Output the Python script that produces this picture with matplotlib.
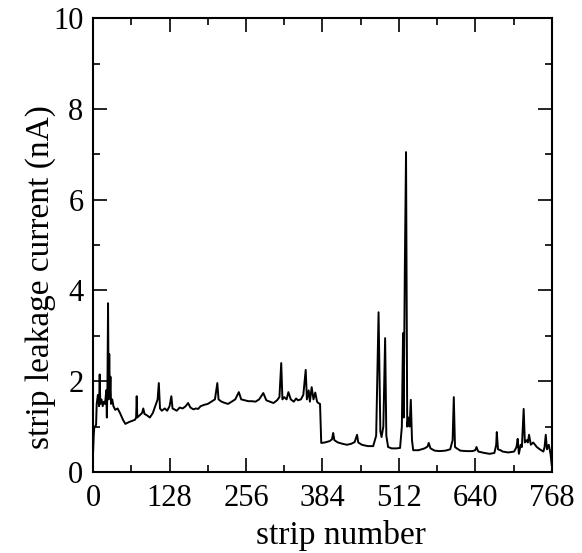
import matplotlib.pyplot as plt
from matplotlib.ticker import MultipleLocator

# values (strip number, leakage current in nA)
strip = [0, 1, 2, 4, 5, 6, 8, 10, 11, 12, 14, 16, 18, 20, 22, 23, 24, 25, 26, 27, 28, 29, 30,
         32, 34, 37, 41, 45, 50, 54, 60, 66, 70, 72, 73, 74, 78, 82, 84, 86, 90, 95, 100, 104,
         108, 110, 112, 115, 120, 124, 128, 131, 133, 136, 140, 145, 150, 155, 159, 163, 168,
         172, 176, 180, 186, 192, 198, 204, 208, 210, 215, 221, 226, 232, 238, 244, 248, 254,
         260, 266, 272, 278, 285, 290, 296, 302, 308, 312, 315, 317, 320, 324, 327, 331, 336,
         340, 343, 348, 352, 356, 358, 361, 363, 366, 369, 372, 375, 377, 380, 382, 388, 396,
         400, 402, 404, 410, 418, 425, 432, 438, 442, 444, 450, 460, 469, 474, 478, 481, 483,
         486, 489, 491, 494, 500, 508, 514, 517, 519, 520, 522, 524, 526, 528, 530, 532, 534,
         536, 545, 555, 560, 562, 565, 572, 580, 590, 598, 602, 604, 606, 609, 615, 625, 635,
         640, 642, 645, 655, 664, 672, 675, 676, 678, 682, 686, 695, 705, 709, 711, 713, 716,
         718, 721, 723, 726, 728, 730, 733, 737, 743, 748, 754, 756, 758, 760, 763, 766, 768]
current = [0.45, 0.8, 1.0, 1.0, 1.05, 1.5, 1.7, 1.45, 2.15, 1.5, 1.6, 1.45, 1.55, 1.5, 1.8, 1.2,
           1.9, 3.72, 1.6, 2.6, 1.7, 2.1, 1.5,
           1.6, 1.45, 1.37, 1.4, 1.3, 1.15, 1.06, 1.1, 1.13, 1.15, 1.2, 1.67, 1.2, 1.25, 1.3,
           1.4, 1.28, 1.25, 1.2, 1.3, 1.45,
           1.6, 1.96, 1.4, 1.35, 1.4, 1.35, 1.45, 1.67, 1.4, 1.38, 1.35, 1.42, 1.4, 1.45, 1.52,
           1.42, 1.38,
           1.4, 1.39, 1.45, 1.48, 1.5, 1.55, 1.6, 1.96, 1.6, 1.55, 1.52, 1.5, 1.55, 1.6, 1.76,
           1.6, 1.58,
           1.56, 1.56, 1.55, 1.6, 1.74, 1.58, 1.55, 1.52, 1.58, 1.65, 2.4, 1.6, 1.65, 1.6, 1.76,
           1.6, 1.55,
           1.62, 1.58, 1.6, 1.7, 2.25, 1.6, 1.8, 1.55, 1.87, 1.6, 1.75, 1.55, 1.52, 1.5, 0.64,
           0.65, 0.68,
           0.72, 0.86, 0.7, 0.65, 0.62, 0.6, 0.62, 0.66, 0.82, 0.65, 0.6, 0.57, 0.57, 0.8, 3.52,
           0.9, 0.77,
           1.0, 2.95, 0.8, 0.55, 0.52, 0.52, 0.53, 1.0, 3.06, 1.2, 4.5, 7.05, 1.0, 1.2, 1.0,
           1.59, 0.7,
           0.48, 0.48, 0.52, 0.56, 0.64, 0.52, 0.47, 0.46, 0.47, 0.5, 0.7, 1.65, 0.55, 0.52,
           0.47, 0.46, 0.46,
           0.48, 0.55, 0.45, 0.42, 0.4, 0.42, 0.6, 0.88, 0.5, 0.48, 0.45, 0.43, 0.45, 0.55,
           0.73, 0.4, 0.6,
           0.55, 1.39, 0.65, 0.7, 0.65, 0.82, 0.6, 0.65, 0.55, 0.5, 0.45, 0.55, 0.82, 0.5, 0.6,
           0.4, 0.15]

xticks = [0, 128, 256, 384, 512, 640, 768]
yticks = [0, 2, 4, 6, 8, 10]

plt.rcParams['font.family'] = 'Liberation Serif'
plt.rcParams['font.size'] = 22

fig = plt.figure(figsize=(5.82, 5.53), dpi=100)
ax = fig.add_axes([0.160, 0.1465, 0.788, 0.8205])

ax.plot(strip, current, color='black', linewidth=1.4)

ax.set_xlim(0, 768)
ax.set_ylim(0, 10)
ax.set_xticks(xticks)
ax.set_yticks(yticks)
ax.xaxis.set_minor_locator(MultipleLocator(64))
ax.yaxis.set_minor_locator(MultipleLocator(1))
ax.tick_params(which='both', direction='in', top=True, right=True, width=1.2)
ax.tick_params(which='major', length=10)
ax.tick_params(axis='x', which='major', pad=9)
ax.tick_params(axis='y', which='major', pad=7)
ax.tick_params(which='minor', length=5)
for sp in ax.spines.values():
    sp.set_linewidth(1.5)

ax.set_xlabel('strip number', fontsize=24)
ax.set_ylabel('strip leakage current (nA)', fontsize=24)
ax.xaxis.set_label_coords(0.54, -0.105)
ax.yaxis.set_label_coords(-0.082, 0.43)

fig.savefig('out.png', dpi=100)
